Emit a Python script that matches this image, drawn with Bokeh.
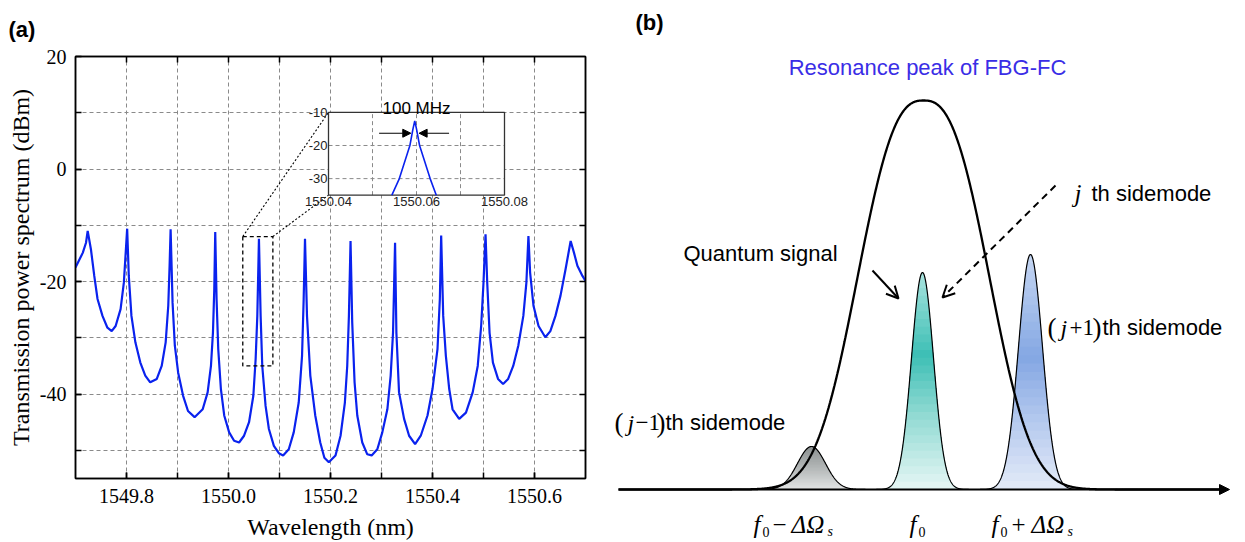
import numpy as np
from bokeh.plotting import figure
from bokeh.models import Range1d, FixedTicker, LinearAxis, Arrow, NormalHead, OpenHead, PrintfTickFormatter
from bokeh.layouts import row
from bokeh.embed import file_html
from bokeh.resources import INLINE
from bokeh.core.properties import value

# ---------------- data, panel (a) ----------------
wavelength_nm = [
    1549.7000, 1549.7142, 1549.7206, 1549.7239, 1549.7303, 1549.7368, 1549.7432, 1549.7529,
    1549.7626, 1549.7710, 1549.7787, 1549.7884, 1549.7948, 1549.7981, 1549.8013,
    1549.8045, 1549.8097, 1549.8174, 1549.8271, 1549.8368, 1549.8465, 1549.8594, 1549.8690,
    1549.8768, 1549.8819, 1549.8845, 1549.8865,
    1549.8903, 1549.8948, 1549.9013, 1549.9110, 1549.9206, 1549.9335, 1549.9494, 1549.9591,
    1549.9656, 1549.9695, 1549.9721, 1549.9740,
    1549.9766, 1549.9799, 1549.9851, 1549.9916, 1550.0013, 1550.0110, 1550.0208, 1550.0305,
    1550.0403, 1550.0487, 1550.0532, 1550.0565, 1550.0597,
    1550.0630, 1550.0662, 1550.0727, 1550.0792, 1550.0890, 1550.0987, 1550.1071, 1550.1182,
    1550.1279, 1550.1377, 1550.1442, 1550.1474, 1550.1500,
    1550.1539, 1550.1604, 1550.1701, 1550.1799, 1550.1880, 1550.1967, 1550.2098, 1550.2197,
    1550.2282, 1550.2328, 1550.2361, 1550.2393,
    1550.2426, 1550.2472, 1550.2525, 1550.2623, 1550.2721, 1550.2807, 1550.2918, 1550.3016,
    1550.3115, 1550.3180, 1550.3226, 1550.3266,
    1550.3292, 1550.3344, 1550.3443, 1550.3541, 1550.3659, 1550.3770, 1550.3902, 1550.4000,
    1550.4098, 1550.4144, 1550.4170,
    1550.4210, 1550.4262, 1550.4328, 1550.4393, 1550.4523, 1550.4656, 1550.4788, 1550.4887,
    1550.4954, 1550.5000, 1550.5040,
    1550.5073, 1550.5119, 1550.5185, 1550.5285, 1550.5384, 1550.5483, 1550.5583, 1550.5682,
    1550.5781, 1550.5841, 1550.5881,
    1550.5914, 1550.5980, 1550.6079, 1550.6212, 1550.6311, 1550.6411, 1550.6510, 1550.6609,
    1550.6709, 1550.6775, 1550.6841, 1550.6940, 1550.7000,
]
power_dbm = [
    -17.5, -14.9, -13.1, -11.0, -14.3, -19.0, -23.1, -26.1,
    -28.2, -28.8, -27.9, -24.9, -20.2, -15.4, -10.6,
    -19.0, -26.1, -30.8, -34.4, -36.7, -37.9, -37.3, -35.0,
    -30.8, -24.3, -17.2, -10.7,
    -23.7, -31.4, -36.2, -40.3, -43.0, -44.1, -42.7, -39.7,
    -35.0, -29.1, -21.4, -11.2,
    -23.1, -32.0, -39.1, -43.8, -46.8, -48.3, -48.6, -47.4,
    -45.0, -40.3, -33.8, -26.1, -12.4,
    -26.1, -35.0, -42.1, -46.2, -49.2, -50.5, -50.9, -49.8,
    -46.8, -41.5, -33.2, -23.1, -12.4,
    -26.1, -36.7, -43.8, -48.6, -51.3, -52.1, -50.9, -47.4,
    -41.5, -35.0, -26.1, -12.8,
    -27.3, -37.9, -43.8, -48.6, -50.7, -50.9, -49.8, -46.8,
    -42.7, -36.7, -29.1, -13.1,
    -29.1, -39.7, -44.4, -47.4, -48.9, -47.4, -43.8, -39.1,
    -32.0, -23.1, -11.8,
    -26.1, -33.2, -39.1, -42.7, -44.4, -43.3, -39.7, -35.0,
    -27.9, -20.2, -11.6,
    -20.2, -29.1, -34.4, -37.3, -38.2, -37.3, -35.0, -31.4,
    -26.1, -20.2, -11.9,
    -18.4, -24.3, -27.9, -29.9, -28.8, -26.1, -22.5, -17.8,
    -12.8, -14.9, -17.2, -19.0, -19.9,
]
inset_wavelength_nm = [1550.0544, 1550.0561, 1550.0573, 1550.0585, 1550.0592, 1550.0596,
                       1550.0600, 1550.0607, 1550.0619, 1550.0631, 1550.0645]
inset_power_dbm = [-35.0, -30.0, -25.0, -20.0, -15.0, -12.6, -15.0, -20.0, -25.0, -30.0, -35.0]

x_major_ticks = [1549.8, 1550.0, 1550.2, 1550.4, 1550.6]
x_grid_ticks = [1549.8, 1549.9, 1550.0, 1550.1, 1550.2, 1550.3, 1550.4, 1550.5, 1550.6]
y_major_ticks = [-40, -20, 0, 20]
y_grid_ticks = [-50, -40, -30, -20, -10, 0, 10]
inset_x_ticks = [1550.04, 1550.06, 1550.08]
inset_x_grid = [1550.05, 1550.06, 1550.07]
inset_y_ticks = [-10, -20, -30]
inset_y_grid = [-20, -30]
zoom_box_x = [1550.028, 1550.087]
zoom_box_y = [-35.0, -12.0]
fwhm_text = "100 MHz"
fwhm_arrow_y = -16.3
fwhm_left_arrow = [1550.0515, 1550.0587]
fwhm_right_arrow = [1550.0674, 1550.0606]

# ---------------- data, panel (b) (schematic) ----------------
filter_center, filter_height, filter_width, filter_order = 923.0, 389.0, 80.0, 2.6
mode_centers = [811.0, 922.0, 1030.0]
mode_heights = [43.0, 217.0, 235.0]
mode_sigmas = [14.0, 11.0, 12.0]
mode_gradients = [
    [(0.0, "#e3e5e5"), (0.5, "#b3b7b7"), (1.0, "#8b9090")],
    [(0.0, "#e6f7f5"), (0.35, "#8fd9d2"), (0.62, "#3dbfb5"), (1.0, "#a9e4df")],
    [(0.0, "#e4ebf8"), (0.3, "#b3c8ee"), (0.56, "#84a7e3"), (1.0, "#c6d7f3")],
]
freq_axis_extent = [618.0, 1229.0]

BLUE = "#0a22ee"
SERIF = "Liberation Serif"
SANS = "Liberation Sans"

# ================= panel (a) =================
XR = (1549.7, 1550.7)
YR = (-55.0, 20.0)
FR_L, FR_R, FR_T, FR_B = 75, 585, 55, 478
IN_L, IN_R, IN_T, IN_B = 328, 504, 111, 194
ix0, ix1 = inset_x_ticks[0], inset_x_ticks[-1]
iy0, iy1 = -35.0, -10.0

pa = figure(width=600, height=542, x_range=Range1d(*XR), y_range=Range1d(*YR),
            output_backend="svg", toolbar_location=None,
            min_border_left=FR_L, min_border_right=600 - FR_R,
            min_border_top=FR_T, min_border_bottom=542 - FR_B)
pa.frame_align = False

fw, fh = FR_R - FR_L, FR_B - FR_T
sx = (ix1 - ix0) / (IN_R - IN_L)
sy = (iy1 - iy0) / (IN_B - IN_T)
ixr = Range1d(ix0 - (IN_L - FR_L) * sx, ix0 - (IN_L - FR_L) * sx + fw * sx)
iyr = Range1d(iy0 - (FR_B - IN_B) * sy, iy0 - (FR_B - IN_B) * sy + fh * sy)
pa.extra_x_ranges = {"ix": ixr}
pa.extra_y_ranges = {"iy": iyr}


def i2m_x(x):
    return XR[0] + (x - ixr.start) / (ixr.end - ixr.start) * (XR[1] - XR[0])


def i2m_y(y):
    return YR[0] + (y - iyr.start) / (iyr.end - iyr.start) * (YR[1] - YR[0])


# axes / grid
for ax in pa.xaxis:
    ax.ticker = FixedTicker(ticks=x_major_ticks, minor_ticks=x_grid_ticks)
    ax.formatter = PrintfTickFormatter(format="%.1f")
    ax.axis_label = "Wavelength (nm)"
    ax.major_label_standoff = 10
    ax.axis_label_standoff = 8
for ax in pa.yaxis:
    ax.ticker = FixedTicker(ticks=y_major_ticks, minor_ticks=y_grid_ticks)
    ax.formatter = PrintfTickFormatter(format="%d")
    ax.axis_label = "Transmission power spectrum (dBm)"
    ax.major_label_standoff = 9
    ax.axis_label_standoff = 3
for ax in pa.axis:
    ax.major_label_text_font = SERIF
    ax.major_label_text_font_size = "20px"
    ax.major_label_text_color = "black"
    ax.axis_label_text_font = SERIF
    ax.axis_label_text_font_size = "24px"
    ax.axis_label_text_font_style = "normal"
    ax.axis_label_text_color = "black"
    ax.major_tick_in, ax.major_tick_out = 6, 0
    ax.minor_tick_in, ax.minor_tick_out = 6, 0
    ax.axis_line_width = 1.5
    ax.major_tick_line_width = 1.5
    ax.minor_tick_line_width = 1.5
    ax.axis_line_color = "black"
    ax.major_tick_line_color = "black"
    ax.minor_tick_line_color = "black"

# mirrored ticks (no labels) on top and right
for loc, mt in (("above", x_grid_ticks), ("right", y_grid_ticks)):
    ax = LinearAxis(ticker=FixedTicker(ticks=[], minor_ticks=mt), major_label_standoff=0,
                    major_tick_in=0, major_tick_out=0, minor_tick_in=6, minor_tick_out=0,
                    axis_line_width=1.5, axis_line_color="black",
                    minor_tick_line_width=1.5, minor_tick_line_color="black")
    pa.add_layout(ax, loc)

pa.xgrid.ticker = FixedTicker(ticks=x_grid_ticks)
pa.ygrid.ticker = FixedTicker(ticks=y_grid_ticks)
pa.grid.grid_line_color = "#8a8a8a"
pa.grid.grid_line_dash = "4 3"
pa.grid.grid_line_width = 1
pa.outline_line_color = "black"
pa.outline_line_width = 1.5

pa.title.text = "(a)"
pa.title.align = "left"
pa.title.offset = -(FR_L - 8)
pa.title.standoff = 29
pa.title.text_font = SANS
pa.title.text_font_size = "22px"
pa.title.text_font_style = "bold"
pa.title.text_color = "black"

# spectrum
pa.line(wavelength_nm, power_dbm, line_color=BLUE, line_width=2.2)

# zoom box + connectors
pa.quad(left=[zoom_box_x[0]], right=[zoom_box_x[1]], bottom=[zoom_box_y[0]], top=[zoom_box_y[1]],
        fill_color=None, line_color="black", line_dash="4 3", line_width=1.3)
pa.line([zoom_box_x[0], i2m_x(ix0)], [zoom_box_y[1], i2m_y(iy1)],
        line_color="black", line_dash="2 2", line_width=1.1)
pa.line([zoom_box_x[1], i2m_x(ix0)], [zoom_box_y[1], i2m_y(iy0)],
        line_color="black", line_dash="2 2", line_width=1.1)

# inset
pa.quad(left=[ix0], right=[ix1], bottom=[iy0], top=[iy1], x_range_name="ix", y_range_name="iy",
        fill_color="white", line_color=None)
pa.segment(x0=inset_x_grid, x1=inset_x_grid, y0=[iy0] * len(inset_x_grid), y1=[iy1] * len(inset_x_grid),
           x_range_name="ix", y_range_name="iy", line_color="#8a8a8a", line_dash="4 3", line_width=1)
pa.segment(x0=[ix0] * len(inset_y_grid), x1=[ix1] * len(inset_y_grid), y0=inset_y_grid, y1=inset_y_grid,
           x_range_name="ix", y_range_name="iy", line_color="#8a8a8a", line_dash="4 3", line_width=1)
pa.quad(left=[ix0], right=[ix1], bottom=[iy0], top=[iy1], x_range_name="ix", y_range_name="iy",
        fill_color=None, line_color="#333333", line_width=1.3)
pa.line(inset_wavelength_nm, inset_power_dbm, x_range_name="ix", y_range_name="iy",
        line_color=BLUE, line_width=1.6)
pa.text(x=[ix0] * len(inset_y_ticks), y=inset_y_ticks, text=[str(v) for v in inset_y_ticks],
        x_range_name="ix", y_range_name="iy", text_align="right", text_baseline="middle",
        x_offset=-1, text_font=value(SANS), text_font_size=value("13px"), text_color="#222222")
pa.text(x=inset_x_ticks, y=[iy0] * len(inset_x_ticks), text=[f"{v:.2f}" for v in inset_x_ticks],
        x_range_name="ix", y_range_name="iy", text_align="center", text_baseline="top",
        y_offset=2, text_font=value(SANS), text_font_size=value("13px"), text_color="#222222")
pa.text(x=[inset_x_ticks[1]], y=[iy1], text=[fwhm_text], x_range_name="ix", y_range_name="iy",
        text_align="center", text_baseline="alphabetic", y_offset=-4,
        text_font=value(SANS), text_font_size=value("17px"), text_color="black")
for xs in (fwhm_left_arrow, fwhm_right_arrow):
    pa.add_layout(Arrow(end=NormalHead(size=8, fill_color="black", line_color="black"),
                        x_start=xs[0], y_start=fwhm_arrow_y, x_end=xs[1], y_end=fwhm_arrow_y,
                        x_range_name="ix", y_range_name="iy", line_color="black", line_width=1.2))

# ================= panel (b) =================
BASE_Y = 489
pb = figure(width=645, height=542, x_range=Range1d(600, 1245), y_range=Range1d(BASE_Y - 542, BASE_Y),
            output_backend="svg", toolbar_location=None, min_border=0,
            x_axis_location=None, y_axis_location=None)
pb.frame_align = False
pb.grid.visible = False
pb.outline_line_color = None


def hex2rgb(h):
    return np.array([int(h[i:i + 2], 16) for i in (1, 3, 5)], dtype=float)


def color_at(stops, t):
    for (t0, c0), (t1, c1) in zip(stops[:-1], stops[1:]):
        if t0 <= t <= t1:
            f = (t - t0) / (t1 - t0)
            c = hex2rgb(c0) * (1 - f) + hex2rgb(c1) * f
            return "#%02x%02x%02x" % tuple(int(round(v)) for v in c)
    return stops[-1][1]


NB = 28
for c, h, s, stops in zip(mode_centers, mode_heights, mode_sigmas, mode_gradients):
    xs = np.linspace(c - 4.2 * s, c + 4.2 * s, 400)
    g = h * np.exp(-0.5 * ((xs - c) / s) ** 2)
    for k in range(NB - 1, -1, -1):
        upper = h * (k + 1) / NB
        pb.varea(x=xs, y1=np.zeros_like(xs), y2=np.minimum(g, upper),
                 fill_color=color_at(stops, (k + 0.5) / NB))
    pb.line(xs, g, line_color="black", line_width=1.2)

fx = np.linspace(freq_axis_extent[0], freq_axis_extent[1] - 8, 1500)
fy = filter_height * np.exp(-(np.abs(fx - filter_center) / filter_width) ** filter_order)
pb.line(fx, fy, line_color="black", line_width=2.3)

pb.add_layout(Arrow(end=NormalHead(size=10, fill_color="black", line_color="black"),
                    x_start=freq_axis_extent[0], y_start=0, x_end=freq_axis_extent[1], y_end=0,
                    line_color="black", line_width=2))
pb.add_layout(Arrow(end=OpenHead(size=12, line_width=2, line_color="black"),
                    x_start=872, y_start=BASE_Y - 270, x_end=898, y_end=BASE_Y - 298,
                    line_color="black", line_width=2))
pb.add_layout(Arrow(end=OpenHead(size=12, line_width=2, line_color="black"),
                    x_start=1055, y_start=BASE_Y - 185, x_end=942, y_end=BASE_Y - 297,
                    line_color="black", line_width=2, line_dash="7 5"))


def txt(x, cy, s, size, font=SANS, style="normal", color="black", align="left"):
    # cy: vertical centre of the text in canvas pixels (from top)
    pb.text(x=[x], y=[BASE_Y - cy], text=[s], text_font=value(font), text_font_size=value(size),
            text_font_style=style, text_color=color, text_align=align, text_baseline="middle")


txt(635, 22, "(b)", "22px", style="bold")
txt(927, 67, "Resonance peak of FBG-FC", "22px", color="#3a2de6", align="center")
txt(683, 253, "Quantum signal", "22px")

# j th sidemode
cy = 193
txt(1074, cy, "j", "25px", font=SERIF, style="italic")
txt(1091, cy, "th sidemode", "22px")
# (j+1)th sidemode
cy = 327
txt(1047, cy, "(", "27px", font=SERIF)
txt(1060, cy, "j", "24px", font=SERIF, style="italic")
txt(1069, cy, "+1", "23px", font=SERIF)
txt(1092, cy, ")", "27px", font=SERIF)
txt(1102, cy, "th sidemode", "22px")
# (j-1)th sidemode
cy = 422
txt(614, cy, "(", "27px", font=SERIF)
txt(627, cy, "j", "24px", font=SERIF, style="italic")
txt(635, cy, "\u22121", "23px", font=SERIF)
txt(656, cy, ")", "27px", font=SERIF)
txt(665, cy, "th sidemode", "22px")

# frequency labels
cm, cs = 524, 531
txt(753, cm, "f", "25px", font=SERIF, style="italic")
txt(762, cs, "0", "14px", font=SERIF)
txt(772, cm, "\u2212", "25px", font=SERIF)
txt(791, cm, "\u0394\u03a9", "25px", font=SERIF, style="italic")
txt(827, cs, "s", "14px", font=SERIF, style="italic")

txt(909, cm, "f", "25px", font=SERIF, style="italic")
txt(918, cs, "0", "14px", font=SERIF)

txt(991, cm, "f", "25px", font=SERIF, style="italic")
txt(1000, cs, "0", "14px", font=SERIF)
txt(1011, cm, "+", "25px", font=SERIF)
txt(1031, cm, "\u0394\u03a9", "25px", font=SERIF, style="italic")
txt(1067, cs, "s", "14px", font=SERIF, style="italic")

layout = row(pa, pb)
open("out.html", "w").write(file_html(layout, INLINE))
